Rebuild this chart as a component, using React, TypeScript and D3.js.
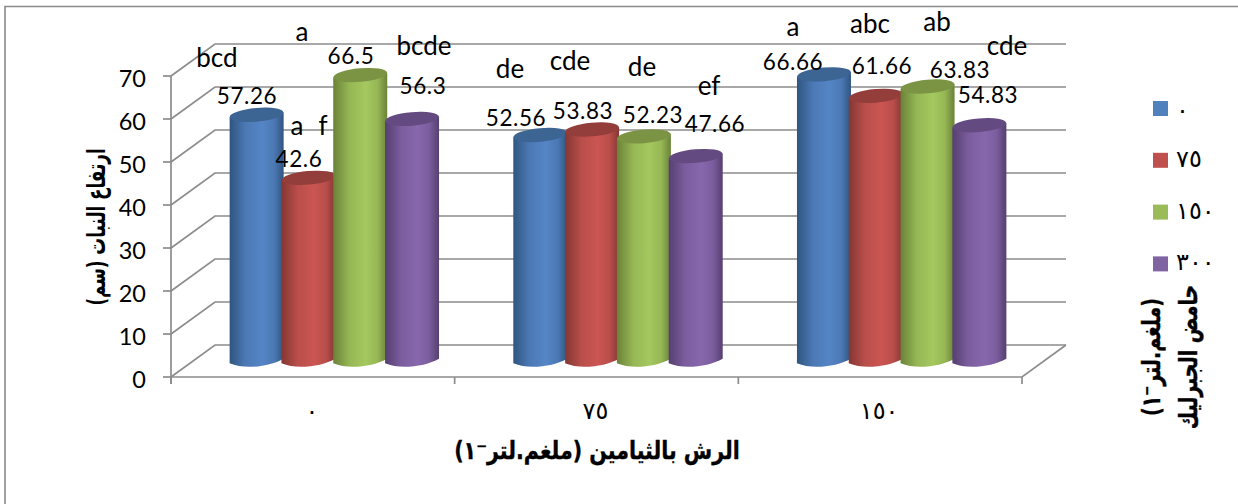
import React from "react";
import * as d3 from "d3";

// Thiamine spray levels (x axis) and gibberellic acid levels (legend)
const thiamineLabels = ["٠", "٧٥", "١٥٠"];
const acidLabels = ["٠", "٧٥", "١٥٠", "٣٠٠"];

// Plant height per acid level, one value for each thiamine level
const acid0 = [57.26, 52.56, 66.66];
const acid75 = [42.6, 53.83, 61.66];
const acid150 = [66.5, 52.23, 63.83];
const acid300 = [56.3, 47.66, 54.83];
const seriesValues = [acid0, acid75, acid150, acid300];

const yTicks = [0, 10, 20, 30, 40, 50, 60, 70];

const valueText = ["57.26", "42.6", "66.5", "56.3", "52.56", "53.83", "52.23", "47.66", "66.66", "61.66", "63.83", "54.83"];
const letterText = ["bcd", "a", "a", "f", "bcde", "de", "cde", "de", "ef", "a", "abc", "ab", "cde"];

// Hand-placed annotation anchors, in the same order as the text lists
const valueAnchors: [number, number][] = [
  [247, 104], [299, 167], [351, 64], [423, 94],
  [516, 126], [583, 119], [653, 123], [715, 132],
  [793, 70], [882, 74], [960, 78], [988, 103],
];
const letterAnchors: [number, number][] = [
  [217, 67], [302, 41], [297, 135], [323, 135], [424, 55],
  [510, 78], [570, 70], [642, 76], [709, 95],
  [793, 36], [870, 33], [937, 31], [1007, 55],
];

const colors = [
  { edge: "#2f5580", mid: "#5585c6", top: "#3d6593" },
  { edge: "#843733", mid: "#cb5552", top: "#943e3b" },
  { edge: "#6a8238", mid: "#a5c85f", top: "#7a9444" },
  { edge: "#553f70", mid: "#8867ad", top: "#634a80" },
];
const legendColors = ["#4f81bd", "#c0504d", "#9bbb59", "#8064a2"];

const GRID = "#8c8c8c";
const LATIN = "Lato, 'Open Sans', sans-serif";
const ARABIC = "'DejaVu Sans', sans-serif";

// Front plane of the 3D box and the depth offset to its back wall
const frontLeft = 171;
const frontRight = 1022;
const depthX = 44;
const depthY = 32;
const frontBase = 377;

const yFront = d3.scaleLinear().domain([0, 70]).range([frontBase, 76]);
const yMid = (v: number) => yFront(v) - depthY / 2;
const xFront = d3.scaleBand<number>().domain([0, 1, 2]).range([frontLeft, frontRight]);
const xMid = d3.scaleBand<number>().domain([0, 1, 2]).range([frontLeft + depthX / 2, frontRight + depthX / 2]);
const xSeries = d3.scaleBand<number>().domain([0, 1, 2, 3]).range([-103.6, 103.6]);

const BAR_W = 54;
const RY = 6.8;
const TILT = -5;

export default function App() {
  const cylinder = (v: number, g: number, s: number) => {
    const cx = xMid(g)! + xMid.bandwidth() / 2 + xSeries(s)! + xSeries.bandwidth() / 2 - 0.5;
    const rx = BAR_W / 2;
    const top = yMid(v);
    const base = yMid(0);
    const lift = rx * Math.sin((-TILT * Math.PI) / 180);
    const body = d3.path();
    body.moveTo(cx - rx, top + lift);
    body.lineTo(cx + rx, top - lift);
    body.lineTo(cx + rx, base - lift);
    body.bezierCurveTo(cx + rx * 0.5, base + RY * 0.75, cx - rx * 0.4, base + RY * 1.35, cx - rx, base + lift);
    body.closePath();
    return (
      <g key={`${g}-${s}`}>
        <path d={body.toString()} fill={`url(#cyl${s})`} />
        <ellipse
          cx={cx}
          cy={top}
          rx={rx}
          ry={RY}
          fill={colors[s].top}
          transform={`rotate(${TILT} ${cx} ${top})`}
        />
      </g>
    );
  };

  return (
    <svg
      width={1238}
      height={504}
      style={{ position: "absolute", left: 0, top: 0, background: "#fff" }}
    >
      <defs>
        {colors.map((c, i) => (
          <linearGradient id={`cyl${i}`} key={i} x1="0" x2="1" y1="0" y2="0">
            <stop offset="0" stopColor={c.edge} />
            <stop offset="0.3" stopColor={d3.interpolateRgb(c.edge, c.mid)(0.75)} />
            <stop offset="0.6" stopColor={c.mid} />
            <stop offset="0.82" stopColor={d3.interpolateRgb(c.edge, c.mid)(0.75)} />
            <stop offset="1" stopColor={c.edge} />
          </linearGradient>
        ))}
      </defs>

      {/* outer chart frame: only the top and left edges are inked */}
      <path d="M5 504V6.5H1238" fill="none" stroke="#8a8a8a" strokeWidth={1.6} />

      {/* wall gridlines with their run down the side wall */}
      <g fill="none" stroke={GRID} strokeWidth={1.7}>
        {yTicks.map((t) => (
          <path
            key={t}
            d={`M${frontLeft} ${yFront(t)}L${frontLeft + depthX} ${yFront(t) - depthY}H${frontRight + depthX}`}
          />
        ))}
        <path d={`M${frontLeft} ${yFront(70)}V${frontBase + 7}`} />
        <path d={`M${frontLeft} ${frontBase}H${frontRight}L${frontRight + depthX} ${frontBase - depthY}`} />
        {yTicks.map((t) => (
          <path key={`t${t}`} d={`M${frontLeft - 8} ${yFront(t)}H${frontLeft}`} />
        ))}
        {[0, 1, 2, 3].map((i) => {
          const x = i < 3 ? xFront(i)! : frontRight;
          return <path key={`x${i}`} d={`M${x} ${frontBase}V${frontBase + 7}`} />;
        })}
      </g>

      {/* y axis numbers */}
      <g fontFamily={LATIN} fontSize={23.5} fill="#000" textAnchor="end">
        {yTicks.map((t) => (
          <text key={t} x={146} y={yFront(t) + 10.5}>
            {t}
          </text>
        ))}
      </g>

      {/* cylinders, series by series inside each group */}
      {[0, 1, 2].map((g) => seriesValues.map((vals, s) => cylinder(vals[g], g, s)))}

      {/* value annotations */}
      <g fontFamily={LATIN} fontSize={22.5} letterSpacing={0.6} fill="#000" textAnchor="middle">
        {valueText.map((t, i) => (
          <text key={i} x={valueAnchors[i][0]} y={valueAnchors[i][1]}>
            {t}
          </text>
        ))}
      </g>

      {/* significance letters */}
      <g fontFamily={LATIN} fontSize={26} fill="#000" textAnchor="middle">
        {letterText.map((t, i) => (
          <text key={i} x={letterAnchors[i][0]} y={letterAnchors[i][1]}>
            {t}
          </text>
        ))}
      </g>

      {/* x axis categories */}
      <g fontFamily={ARABIC} fontSize={24} fill="#000" textAnchor="middle">
        {thiamineLabels.map((t, i) => (
          <text key={i} x={xFront(i)! + xFront.bandwidth() / 2 - 1} y={419}>
            {t}
          </text>
        ))}
      </g>

      {/* axis titles, stretched across the baseline for a tall heavy look */}
      <text
        transform="translate(597 459) scale(1.03 1.25)"
        fontFamily={ARABIC}
        fontWeight="bold"
        fontSize={20}
        fill="#000"
        stroke="#000"
        strokeWidth={0.3}
        textAnchor="middle"
        direction="rtl"
      >
        الرش بالثيامين (ملغم.لتر⁻١)
      </text>
      <text
        transform="translate(105 227) rotate(-90) scale(1.05 1.6)"
        fontFamily={ARABIC}
        fontWeight="bold"
        fontSize={16}
        fill="#000"
        textAnchor="middle"
        direction="rtl"
      >
        ارتفاع النبات (سم)
      </text>

      {/* legend */}
      {acidLabels.map((t, i) => (
        <g key={i} transform={`translate(1153 ${101 + i * 51.8})`}>
          <rect width={15} height={15} fill={legendColors[i]} />
          <text x={23} y={i === 0 ? 17 : 14} fontFamily={ARABIC} fontSize={24} fill="#000">
            {t}
          </text>
        </g>
      ))}
      <g
        fontFamily={ARABIC}
        fontWeight="bold"
        fontSize={19}
        fill="#000"
        stroke="#000"
        strokeWidth={0.3}
        textAnchor="middle"
        direction="rtl"
      >
        <text transform="translate(1197 357) rotate(-90) scale(1 1.35)">حامض الجبرليك</text>
        <text transform="translate(1160 357) rotate(-90) scale(1 1.35)">(ملغم.لتر⁻١)</text>
      </g>
    </svg>
  );
}
